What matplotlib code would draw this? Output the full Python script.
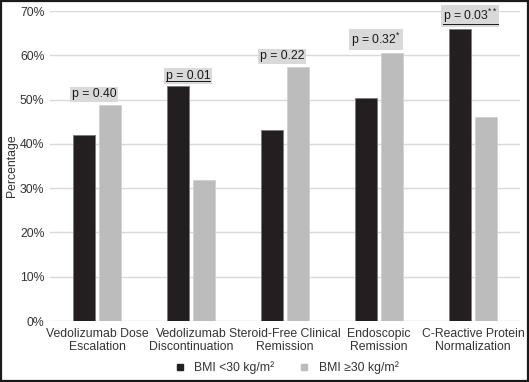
import numpy as np
import matplotlib.pyplot as plt
from matplotlib.patches import Rectangle
from matplotlib.lines import Line2D

plt.rcParams['font.family'] = ['Liberation Sans', 'DejaVu Sans']
plt.rcParams['mathtext.fontset'] = 'custom'
plt.rcParams['mathtext.rm'] = 'Liberation Sans'
plt.rcParams['mathtext.it'] = 'Liberation Sans'

categories = ['Vedolizumab Dose\nEscalation', 'Vedolizumab\nDiscontinuation',
              'Steroid-Free Clinical\nRemission', 'Endoscopic\nRemission',
              'C-Reactive Protein\nNormalization']
bmi_low = [42.0, 53.0, 43.2, 50.4, 65.9]
bmi_high = [48.8, 31.8, 57.4, 60.5, 46.1]
p_labels = ['p = 0.40', 'p = 0.01', 'p = 0.22', r'p = 0.32$^{*}$', r'p = 0.03$^{**}$']
p_underline = [False, True, False, False, True]

dark = '#231f20'
light = '#bcbcbc'
fs = 8.8

fig = plt.figure(figsize=(5.29, 3.82), dpi=100)
ax = fig.add_axes([50 / 529, 61 / 382, 470 / 529, 310 / 382])

x = np.arange(len(categories))
w = 0.23
ax.bar(x - 0.14, bmi_low, w, color=dark, edgecolor='#7a7a7a', linewidth=0.6, zorder=3)
ax.bar(x + 0.14, bmi_high, w, color=light, edgecolor='#d0d0d0', linewidth=0.6, zorder=3)

ptexts = []
for i, lab in enumerate(p_labels):
    top = max(bmi_low[i], bmi_high[i])
    t = ax.text(x[i] - 0.03, top + 1.0, lab, ha='center', va='bottom', fontsize=fs,
                color='#1a1a1a', zorder=4,
                bbox=dict(boxstyle='square,pad=0.15', facecolor='#d9d9d9', edgecolor='none'))
    ptexts.append(t)

ax.set_xlim(-0.5, len(categories) - 0.5)
ax.set_ylim(0, 70)
ax.set_yticks(np.arange(0, 71, 10))
ax.set_yticklabels([f'{v}%' for v in range(0, 71, 10)])
ax.set_xticks(x)
ax.set_xticklabels(categories, fontsize=fs, color='#333333', linespacing=1.15)
ax.tick_params(axis='y', labelsize=fs, labelcolor='#333333', length=0, pad=4)
ax.tick_params(axis='x', length=0, pad=5)
ax.grid(axis='y', color='#d9d9d9', linewidth=1, zorder=0)
for s in ax.spines.values():
    s.set_visible(False)
ax.set_ylabel('Percentage', fontsize=fs, color='#333333')
ax.yaxis.set_label_coords(-0.068, 0.5)

handles = [Line2D([], [], marker='s', linestyle='', color=dark, markersize=5),
           Line2D([], [], marker='s', linestyle='', color=light, markersize=5)]
fig.legend(handles, ['BMI <30 kg/m²', 'BMI ≥30 kg/m²'], loc='center',
           bbox_to_anchor=(0.535, 1 - 368 / 382), ncol=2, frameon=False,
           fontsize=fs, handletextpad=0.2, columnspacing=1.4, labelcolor='#333333')

# underline the significant p-values
fig.canvas.draw()
renderer = fig.canvas.get_renderer()
for t, u in zip(ptexts, p_underline):
    if not u:
        continue
    bb = t.get_window_extent(renderer).transformed(fig.transFigure.inverted())
    fig.add_artist(Line2D([bb.x0, bb.x1], [bb.y0 + 0.002, bb.y0 + 0.002],
                          transform=fig.transFigure, color='#1a1a1a', linewidth=0.7,
                          zorder=5))

fig.patches.append(Rectangle((0.002, 0.003), 0.996, 0.994, transform=fig.transFigure,
                             fill=False, edgecolor='#1a1a1a', linewidth=1.6))

fig.savefig('out.png', dpi=100)
